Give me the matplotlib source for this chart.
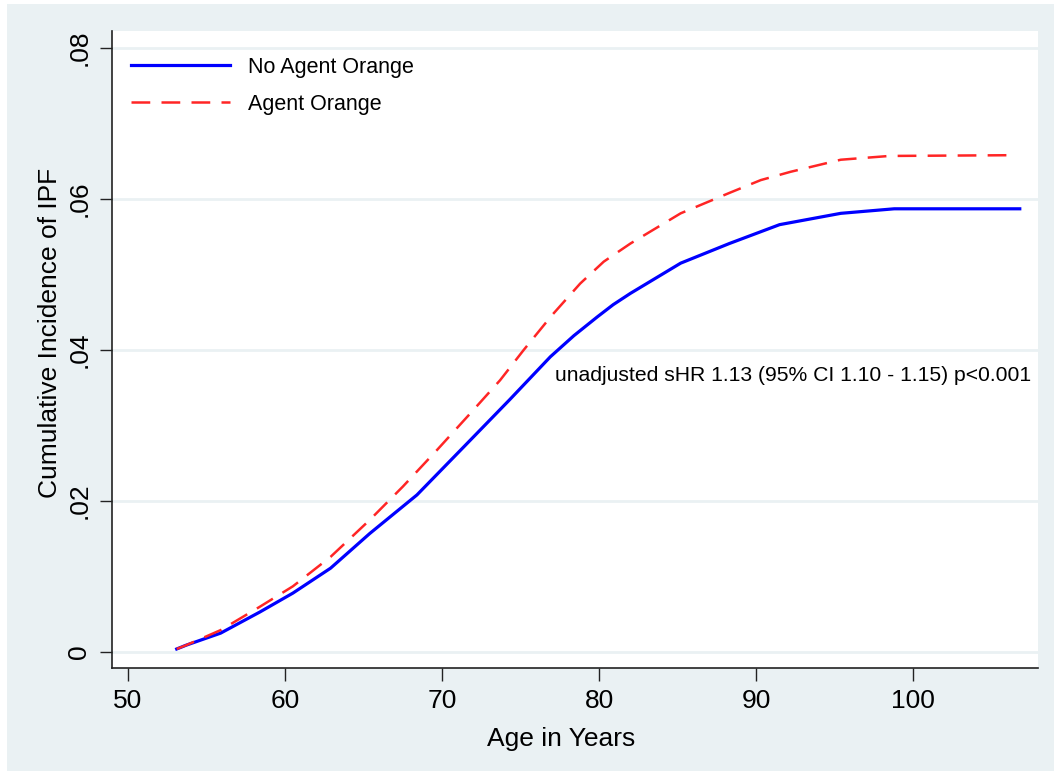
import matplotlib.pyplot as plt
from matplotlib.patches import Rectangle

plt.rcParams['font.family'] = ['Liberation Sans', 'DejaVu Sans']

# cumulative incidence
age_no = [53.1, 53.7, 55.9, 58.4, 60.5, 62.9, 65.4, 68.4, 71.4, 74.3, 76.9, 78.4, 79.9, 80.9, 82.0, 85.2, 88.3,
          91.5, 95.4, 98.8, 106.8]
cif_no = [0.0004, 0.0009, 0.0025, 0.0053, 0.0078, 0.0111, 0.0157, 0.0208, 0.0272, 0.0334, 0.0391, 0.0419, 0.0444,
          0.0460, 0.0475, 0.0515, 0.0541, 0.0566, 0.0581, 0.0587, 0.0587]
age_ao = [53.1, 53.7, 55.9, 58.4, 60.5, 62.9, 65.4, 67.5, 69.7, 71.8, 73.7, 75.2, 77.0, 78.8, 80.3, 82.0, 85.2,
          88.3, 90.3, 92.2, 95.4, 98.5, 106.4]
cif_ao = [0.0004, 0.0009, 0.0029, 0.0060, 0.0087, 0.0126, 0.0175, 0.0219, 0.0268, 0.0316, 0.0360, 0.0400, 0.0446,
          0.0488, 0.0517, 0.0541, 0.0581, 0.0608, 0.0625, 0.0636, 0.0652, 0.0657, 0.0658]

xticks = [50, 60, 70, 80, 90, 100]
yticks = [0, 0.02, 0.04, 0.06, 0.08]
ylabels = ['0', '.02', '.04', '.06', '.08']

fig = plt.figure(figsize=(10.54, 7.71), dpi=100, facecolor='white')
bg = Rectangle((7 / 1054, 0), 1, 1 - 4 / 771, transform=fig.transFigure,
               facecolor='#EAF1F3', edgecolor='none', zorder=-10)
fig.add_artist(bg)
ax = fig.add_axes([0.1063, 0.1336, 0.8785, 0.8262])
ax.set_zorder(1)
ax.set_facecolor('white')

for y in yticks:
    ax.axhline(y, color='#EAF1F3', lw=2, zorder=1)

ax.plot(age_no, cif_no, color='#0000FF', lw=2.3, label='No Agent Orange', zorder=3)
ax.plot(age_ao, cif_ao, color='#FF2525', lw=1.8, dashes=(7.5, 4.5), label='Agent Orange', zorder=3)

ax.set_xlim(48.98, 107.96)
ax.set_ylim(-0.00212, 0.08225)
ax.set_xticks(xticks)
ax.set_yticks(yticks)
ax.set_yticklabels(ylabels, rotation=90, va='center')
ax.tick_params(axis='both', labelsize=19, length=9, width=1, color='#222222', pad=6)
for s in ['top', 'right']:
    ax.spines[s].set_visible(False)
for s in ['left', 'bottom']:
    ax.spines[s].set_linewidth(1.2)
    ax.spines[s].set_color('#222222')

ax.set_xlabel('Age in Years', fontsize=19)
ax.set_ylabel('Cumulative Incidence of IPF', fontsize=19)
ax.xaxis.set_label_coords(0.485, -0.092)
ax.yaxis.set_label_coords(-0.054, 0.526)

ax.text(77.2, 0.0366, 'unadjusted sHR 1.13 (95% CI 1.10 - 1.15) p<0.001', fontsize=15.2, ha='left', va='center')

ax.legend(loc='upper left', bbox_to_anchor=(0.0, 0.99), frameon=False, fontsize=15.5,
          handlelength=4.6, handletextpad=0.8, labelspacing=0.75, borderaxespad=0.5)

fig.savefig('out.png', dpi=100, facecolor=fig.get_facecolor())
